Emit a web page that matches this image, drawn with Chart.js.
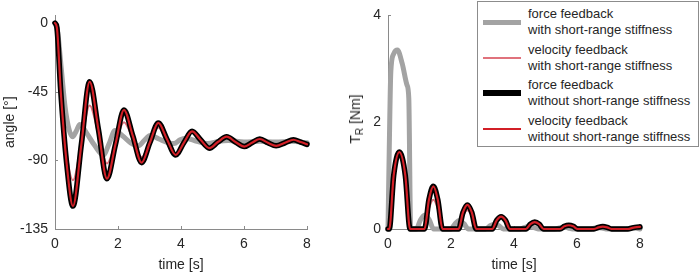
<!DOCTYPE html>
<html>
<head>
<meta charset="utf-8">
<script src="https://cdn.jsdelivr.net/npm/chart.js@4.4.1/dist/chart.umd.min.js"></script>
<style>
  html, body { margin:0; padding:0; background:#fff; width:700px; height:272px; overflow:hidden; }
  body { position:relative; font-family:"Liberation Sans", Arial, Helvetica, sans-serif; }
  .panel { position:absolute; top:0; width:350px; height:272px; }
  #legend { position:absolute; left:477px; top:1px; width:222px; height:146px; box-sizing:border-box;
            border:1px solid #8c8c8c; background:#fff; }
  .entry { position:absolute; left:50px; font-size:13px; line-height:16px; color:#262626; white-space:nowrap; }
  .swatch { position:absolute; left:5px; width:38px; }
  #trTitle { position:absolute; left:355px; top:119px; transform:translate(-50%,-50%) rotate(-90deg);
             font-size:14px; color:#262626; white-space:nowrap; }
  #trTitle sub { font-size:10px; vertical-align:-3px; line-height:0; }
</style>
</head>
<body>
<div class="panel" style="left:0"><canvas id="c1" width="350" height="272"></canvas></div>
<div class="panel" style="left:350px"><canvas id="c2" width="350" height="272"></canvas></div>
<div id="trTitle">T<sub>R</sub> [Nm]</div>
<div id="legend"></div>
<script>
// ---------- tick labels ----------
const timeTicks = [0, 2, 4, 6, 8];
const angleTicks = [-135, -90, -45, 0];
const torqueTicks = [0, 2, 4];

// ---------- series names ----------
const seriesNames = [
  ['force feedback', 'with short-range stiffness'],
  ['velocity feedback', 'with short-range stiffness'],
  ['force feedback', 'without short-range stiffness'],
  ['velocity feedback', 'without short-range stiffness']
];

// ---------- angle [deg] ----------
const tAngle = [0,0.06,0.18,0.37,0.57,0.84,1.1,1.38,1.65,1.92,2.19,2.47,2.75,3.01,3.28,3.55,3.83,4.09,4.35,4.62,4.9,5.17,5.45,5.73,6.01,6.25,6.5,6.76,7.02,7.3,7.57,7.8,8.0];
const angleForceNoSRS = [0,-3,-44,-92,-120,-79,-38.5,-70,-102,-79.5,-57,-74,-91.5,-78.5,-65.5,-76,-86.5,-78.5,-71,-76.5,-82,-78,-74.5,-78,-81,-78.5,-76,-78.5,-80.5,-78.5,-76.5,-78,-79.5];
const angleVelNoSRS   = [0,-3,-44,-92,-120,-79,-38.5,-70,-102,-79.5,-57,-74,-91.5,-78.5,-65.5,-76,-86.5,-78.5,-71,-76.5,-82,-78,-74.5,-78,-81,-78.5,-76,-78.5,-80.5,-78.5,-76.5,-78,-79.5];
const angleVelSRS     = [0,-3,-43,-85,-103,-78,-54,-73,-92,-78.5,-65,-76,-88,-78,-68.5,-77,-85.5,-78.5,-71.5,-76.5,-82,-78,-74.5,-78,-81,-78.5,-76,-78.5,-80.5,-78.5,-76.5,-78,-79.5];
const tAngleForceSRS  = [0,0.08,0.2,0.32,0.45,0.56,0.67,0.79,1.0,1.25,1.53,1.72,1.9,2.15,2.4,2.65,2.83,3.02,3.3,3.6,3.78,3.97,4.15,4.5,4.85,5.2,5.5,6.0,6.5,7.0,7.5,8.0];
const angleForceSRS   = [0,-5,-30,-55,-70,-74.5,-71,-66.5,-72,-80,-86.5,-79,-70.5,-74,-78.5,-80.5,-77,-73.7,-76,-78.5,-79,-76.5,-75.5,-77.5,-79,-77.5,-77,-78,-77.5,-78,-77.5,-78.5];

// ---------- T_R [Nm] ----------
const tTorque = [0,0.04,0.18,0.36,0.55,0.7,1.16,1.3,1.44,1.58,1.73,2.24,2.38,2.52,2.66,2.8,3.31,3.45,3.59,3.73,3.87,4.38,4.52,4.66,4.8,4.94,5.46,5.6,5.74,5.88,6.02,6.54,6.68,6.82,6.96,7.1,7.62,7.76,7.9,8.0];
const torqueForceNoSRS = [0,0,1.0,1.44,1.0,0,0,0.55,0.8,0.55,0,0,0.31,0.45,0.31,0,0,0.16,0.23,0.16,0,0,0.09,0.13,0.09,0,0,0.05,0.07,0.05,0,0,0.03,0.045,0.03,0,0,0.02,0.035,0.04];
const torqueVelNoSRS   = [0,0,1.0,1.44,1.0,0,0,0.55,0.8,0.55,0,0,0.31,0.45,0.31,0,0,0.16,0.23,0.16,0,0,0.09,0.13,0.09,0,0,0.05,0.07,0.05,0,0,0.03,0.045,0.03,0,0,0.02,0.035,0.04];
const torqueVelSRS     = [0,0,0.95,1.35,0.95,0,0,0.38,0.55,0.38,0,0,0.24,0.35,0.24,0,0,0.14,0.2,0.14,0,0,0.08,0.12,0.08,0,0,0.05,0.07,0.05,0,0,0.03,0.045,0.03,0,0,0.02,0.035,0.04];
const tTorqueForceSRS  = [0,0.04,0.09,0.18,0.3,0.45,0.6,0.66,0.72,0.9,1.03,1.17,1.31,1.45,2.0,2.13,2.27,2.41,2.55,3.1,3.24,3.38,3.52,3.66,4.2,4.34,4.48,4.62,4.76,5.3,5.44,5.58,5.72,5.86,6.4,6.54,6.68,6.82,6.96,7.5,7.64,7.78,7.92,8.0];
const torqueForceSRS   = [0,1.5,2.95,3.28,3.35,3.1,2.7,2.45,0,0,0.17,0.26,0.17,0,0,0.1,0.16,0.1,0,0,0.06,0.09,0.06,0,0,0.03,0.05,0.03,0,0,0.02,0.035,0.02,0,0,0.015,0.025,0.015,0,0,0.01,0.02,0.01,0];

// ---------- styles (drawOrder: higher = drawn first / underneath) ----------
const styles = [
  { color:'#a3a3a3', width:5,   drawOrder:3 },
  { color:'#e0727c', width:2,   drawOrder:2 },
  { color:'#000000', width:5.5, drawOrder:1 },
  { color:'#d21f26', width:2.2, drawOrder:0 }
];

function pts(xs, ys) { return xs.map((x, i) => ({ x: x, y: ys[i] })); }
function ds(i, xs, ys) {
  return {
    label: seriesNames[i].join(' '),
    data: pts(xs, ys),
    order: styles[i].drawOrder,
    borderColor: styles[i].color,
    borderWidth: styles[i].width,
    pointRadius: 0,
    fill: false,
    cubicInterpolationMode: 'monotone',
    borderJoinStyle: 'round',
    borderCapStyle: 'round',
    clip: 8
  };
}

const tickFont = { family: '"Liberation Sans", Arial, sans-serif', size: 14 };
const tickColor = '#262626';
const axisColor = '#8a8a8a';

const inTicks = {
  id: 'inTicks',
  beforeDatasetsDraw(chart) {
    const { ctx, chartArea: a, scales: { x, y } } = chart;
    ctx.save();
    ctx.strokeStyle = axisColor;
    ctx.lineWidth = 1;
    x.ticks.forEach(t => {
      const px = Math.round(x.getPixelForValue(t.value)) + 0.5;
      ctx.beginPath(); ctx.moveTo(px, a.bottom); ctx.lineTo(px, a.bottom - 3); ctx.stroke();
    });
    y.ticks.forEach(t => {
      const py = Math.round(y.getPixelForValue(t.value)) + 0.5;
      ctx.beginPath(); ctx.moveTo(a.left, py); ctx.lineTo(a.left + 3, py); ctx.stroke();
    });
    ctx.restore();
  }
};

function makeOptions(yMin, yMax, yTicks, yWidth, rightPad, yTitle) {
  return {
    responsive: false,
    animation: false,
    devicePixelRatio: 1,
    layout: { padding: { top: 10, right: rightPad, left: 0, bottom: 0 } },
    plugins: { legend: { display: false }, tooltip: { enabled: false } },
    scales: {
      x: {
        type: 'linear', min: 0, max: 8,
        afterBuildTicks: s => { s.ticks = timeTicks.map(v => ({ value: v })); },
        afterFit: s => { s.height = 43; },
        grid: { display: true, drawOnChartArea: false, drawTicks: false },
        border: { display: true, color: axisColor, width: 1 },
        ticks: { font: tickFont, color: tickColor, padding: 7, maxRotation: 0 },
        title: { display: true, text: 'time [s]', font: Object.assign({ lineHeight: 1 }, tickFont), color: tickColor, padding: { top: 0, bottom: 0 } }
      },
      y: {
        type: 'linear', min: yMin, max: yMax,
        afterBuildTicks: s => { s.ticks = yTicks.map(v => ({ value: v })); },
        afterFit: s => { s.width = yWidth; },
        grid: { display: true, drawOnChartArea: false, drawTicks: false },
        border: { display: true, color: axisColor, width: 1 },
        ticks: { font: tickFont, color: tickColor, padding: 7 },
        title: yTitle ? { display: true, text: yTitle, font: Object.assign({ lineHeight: 1 }, tickFont), color: tickColor, padding: { top: 3, bottom: 0 } } : { display: false }
      }
    }
  };
}

new Chart(document.getElementById('c1'), {
  type: 'line',
  data: { datasets: [
    ds(0, tAngleForceSRS, angleForceSRS),
    ds(1, tAngle, angleVelSRS),
    ds(2, tAngle, angleForceNoSRS),
    ds(3, tAngle, angleVelNoSRS)
  ] },
  options: makeOptions(-135, 5, angleTicks, 55, 43, 'angle [°]'),
  plugins: [inTicks]
});

new Chart(document.getElementById('c2'), {
  type: 'line',
  data: { datasets: [
    ds(0, tTorqueForceSRS, torqueForceSRS),
    ds(1, tTorque, torqueVelSRS),
    ds(2, tTorque, torqueForceNoSRS),
    ds(3, tTorque, torqueVelNoSRS)
  ] },
  options: makeOptions(0, 4, torqueTicks, 38, 60, null),
  plugins: [inTicks]
});

// ---------- legend ----------
const legend = document.getElementById('legend');
seriesNames.forEach((lines, i) => {
  const top = 4 + 35.5 * i;
  const e = document.createElement('div');
  e.className = 'entry';
  e.style.top = top + 'px';
  e.innerHTML = lines.join('<br>');
  legend.appendChild(e);
  const sw = document.createElement('div');
  sw.className = 'swatch';
  const h = Math.round(styles[i].width);
  sw.style.height = h + 'px';
  sw.style.background = styles[i].color;
  sw.style.top = (top + 16 - h / 2) + 'px';
  legend.appendChild(sw);
});
</script>
</body>
</html>
